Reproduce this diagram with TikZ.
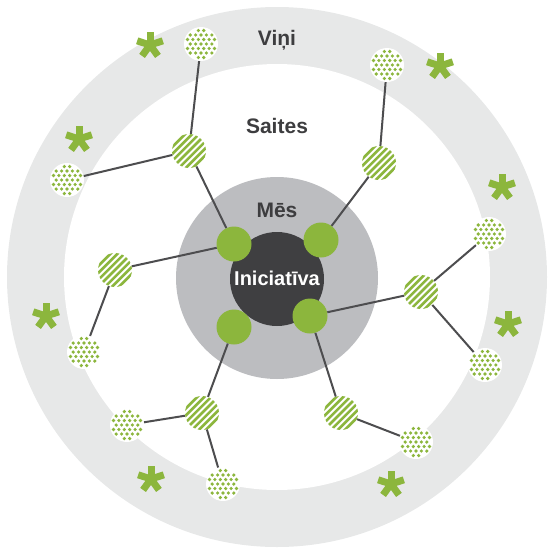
\documentclass[tikz,border=0pt]{standalone}
\usepackage{fontspec}
\setmainfont{Liberation Sans}
\usepackage{tikz}
\definecolor{ringgray}{HTML}{E7E8E8}
\definecolor{mesgray}{HTML}{BCBDC0}
\definecolor{coregray}{HTML}{3F3F41}
\definecolor{leafgreen}{HTML}{8CB63D}
\definecolor{linegray}{HTML}{4D4D4F}
\definecolor{textgray}{HTML}{3D3D3F}
\tikzset{
    asterisk/.pic={
        \foreach \a in {90,162,234,306,378}
            \draw[leafgreen, line width=7pt] (0,0) -- (\a:13.5pt);
    }
}

\begin{document}
\begin{tikzpicture}[x=1pt, y=-1pt,
    label text/.style={text=textgray, font=\fontsize{21}{25}\selectfont\bfseries, anchor=base, inner sep=0pt},
    hub/.style={circle, fill=leafgreen, minimum size=35pt, inner sep=0pt},
    stripeball/.style={circle, fill=white, minimum size=34pt, inner sep=0pt,
        path picture={
            \foreach \k in {-5,...,5}
                \draw[leafgreen, line width=2.6pt]
                    ([shift={(\k*6.9pt-25pt,-25pt)}]path picture bounding box.center) -- ++(50pt,50pt);
        }},
    dotball/.style={circle, fill=white, minimum size=34pt, inner sep=0pt,
        path picture={
            \foreach \j in {-4,...,4}
                \foreach \i in {-6,...,6} {
                    \pgfmathsetmacro\dx{\i*5.4+\j*2.7}
                    \pgfmathsetmacro\dd{veclen(\dx,\j*4.5)}
                    \ifdim\dd pt<14.6pt
                        \fill[leafgreen]
                            ([shift={(\dx pt,\j*4.5pt)}]path picture bounding box.center) circle (1.8pt);
                    \fi
                }
        }},
    link/.style={draw=linegray, line width=2pt}]
    \useasboundingbox (0,0) rectangle (547,549);
    \fill[ringgray] (277,277) circle (270pt);
    \fill[white] (277,277) circle (213pt);
    \fill[mesgray] (277,278) circle (101pt);

    \node[label text] (vini) at (277,45.5) {Viņi};
    \node[label text] (saites) at (277,133.5) {Saites};
    \node[label text] (mes) at (277,217) {Mēs};
    \node[circle, fill=coregray, minimum size=94pt, inner sep=0pt] (core) at (277,279) {};
    \node[text=white, font=\fontsize{20}{24}\selectfont\bfseries, anchor=base, inner sep=0pt] (ini) at (277,285.5) {Iniciatīva};

    \node[hub] (G1) at (234,244) {};
    \node[hub] (G2) at (321,240) {};
    \node[hub] (G3) at (310,316) {};
    \node[hub] (G4) at (234,327) {};

    \node[stripeball] (S1) at (189,151) {};
    \node[stripeball] (S2) at (379,163) {};
    \node[stripeball] (S3) at (115,270) {};
    \node[stripeball] (S4) at (421,292) {};
    \node[stripeball] (S5) at (202,413) {};
    \node[stripeball] (S6) at (341,413) {};

    \node[dotball] (D1) at (201,44) {};
    \node[dotball] (D2) at (387,65) {};
    \node[dotball] (D3) at (67,180) {};
    \node[dotball] (D4) at (489,234) {};
    \node[dotball] (D5) at (84,352) {};
    \node[dotball] (D6) at (485,365) {};
    \node[dotball] (D7) at (127,425) {};
    \node[dotball] (D8) at (223,484) {};
    \node[dotball] (D9) at (416,442) {};

    \draw[link] (G1) -- (S1) -- (D1);
    \draw[link] (S1) -- (D3);
    \draw[link] (G1) -- (S3) -- (D5);
    \draw[link] (G2) -- (S2) -- (D2);
    \draw[link] (G3) -- (S4) -- (D4);
    \draw[link] (S4) -- (D6);
    \draw[link] (G3) -- (S6) -- (D9);
    \draw[link] (G4) -- (S5) -- (D7);
    \draw[link] (S5) -- (D8);

    \pic at (150,45) {asterisk};
    \pic at (440,66) {asterisk};
    \pic at (79,139) {asterisk};
    \pic at (502,187) {asterisk};
    \pic at (46,316) {asterisk};
    \pic at (508,324) {asterisk};
    \pic at (151,479) {asterisk};
    \pic at (391,484) {asterisk};
\end{tikzpicture}
\end{document}
